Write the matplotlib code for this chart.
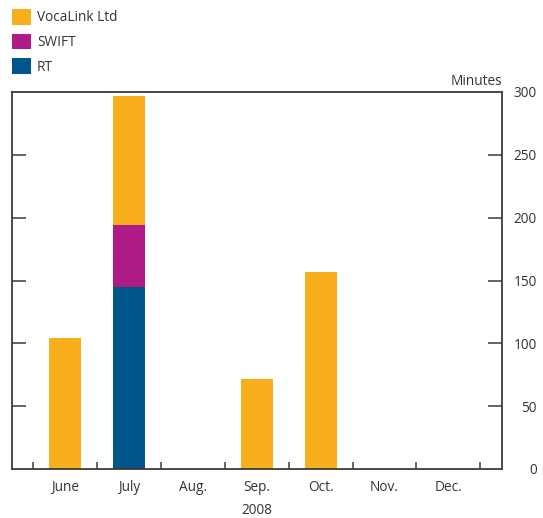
import matplotlib
matplotlib.use("Agg")
import matplotlib.pyplot as plt
import numpy as np

plt.rcParams['font.family'] = ['Open Sans', 'DejaVu Sans']

months = ["June", "July", "Aug.", "Sep.", "Oct.", "Nov.", "Dec."]
rt = [0, 145, 0, 0, 0, 0, 0]
swift = [0, 49, 0, 0, 0, 0, 0]
vocalink = [104, 103, 0, 72, 157, 0, 0]
yticks = [0, 50, 100, 150, 200, 250, 300]

c_voca = "#F9AE1B"
c_swift = "#B01C87"
c_rt = "#00558B"
txt = "#333333"
axc = "#3a3a3a"

fig = plt.figure(figsize=(5.43, 5.18), dpi=100)
ax = fig.add_axes([12/543, 49/518, 490/543, 377/518])

x = np.arange(len(months))
w = 0.5
ax.bar(x, rt, w, color=c_rt, label="RT")
ax.bar(x, swift, w, bottom=rt, color=c_swift, label="SWIFT")
ax.bar(x, vocalink, w, bottom=np.array(rt) + np.array(swift), color=c_voca, label="VocaLink Ltd")

ax.set_xlim(-0.83, 6.84)
ax.set_ylim(0, 300)

for s in ["left", "right", "top", "bottom"]:
    ax.spines[s].set_color(axc)
    ax.spines[s].set_linewidth(1.3)

fs = 9.8

# x ticks: boundaries as ticks, labels at centres
ax.set_xticks(np.arange(-0.5, 7.0, 1.0))
ax.set_xticklabels([])
ax.set_xticks(x, minor=True)
ax.set_xticklabels(months, minor=True, fontsize=fs, color=txt)
ax.tick_params(axis='x', which='major', direction='in', length=5, width=1.1, color=axc)
ax.tick_params(axis='x', which='minor', length=0, pad=8)

ax.set_yticks(yticks)
ax.yaxis.set_ticks_position('both')
ax.tick_params(axis='y', direction='in', length=10, width=1.1, color=axc,
               labelleft=False, labelright=True, labelsize=fs, labelcolor=txt, pad=25)
for lab in ax.get_yticklabels():
    lab.set_horizontalalignment('right')
# hide tick marks at 0 and 300
for t in ax.yaxis.get_major_ticks():
    if t.get_loc() in (0, 300):
        t.tick1line.set_visible(False)
        t.tick2line.set_visible(False)

ax.set_xlabel("2008", fontsize=fs, color=txt, labelpad=6)
ax.text(1.0, 1.008, "Minutes", transform=ax.transAxes, ha='right', va='bottom',
        fontsize=fs, color=txt)

handles, labels = ax.get_legend_handles_labels()
leg = fig.legend(handles[::-1], labels[::-1], loc='upper left',
                 bbox_to_anchor=(12/543, 1 - 9/518), frameon=False, fontsize=fs,
                 handlelength=1.38, handleheight=1.38, handletextpad=0.45,
                 labelspacing=0.62, borderaxespad=0, borderpad=0, labelcolor=txt)

fig.savefig("out.png", dpi=100)
